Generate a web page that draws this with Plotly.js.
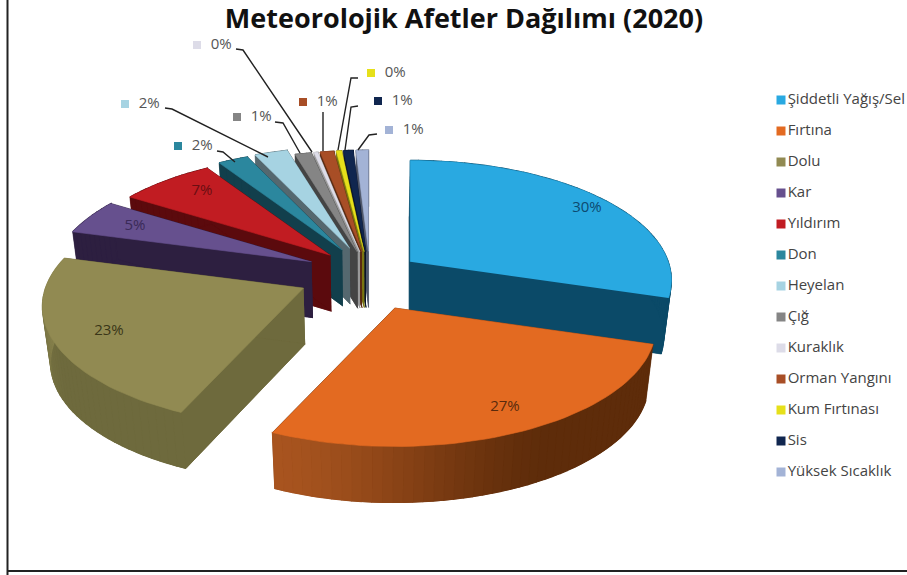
<!DOCTYPE html>
<html><head><meta charset="utf-8">
<script src="https://cdn.plot.ly/plotly-3.0.1.min.js"></script>
<style>html,body{margin:0;padding:0;background:#fff;overflow:hidden}#c{width:907px;height:575px}</style>
</head><body><div id="c"></div>
<script>
const categories = ["Şiddetli Yağış/Sel","Fırtına","Dolu","Kar","Yıldırım","Don","Heyelan","Çığ","Kuraklık","Orman Yangını","Kum Fırtınası","Sis","Yüksek Sıcaklık"];
const values = [29.9,27.0,22.7,4.8,6.9,2.2,2.4,1.2,0.3,1.0,0.4,0.7,0.9];
const topColors = ["#29A9E1","#E36A21","#918A52","#66508E","#C11C22","#2B879E","#A6D3E2","#858585","#DDDCE8","#A84E26","#E6E01A","#10264F","#A3B3D6"];
const wallColors = ["#0B4A68","#5E2C0A","#6E6A3D","#2D1F40","#5B0A0D","#123F4C","#55686F","#444444","#999999","#5A2A12","#7A7510","#081228","#50586B"];
const rimLight = ["#0B4A68","#A8541F","#8D8750","#2D1F40","#5B0A0D","#123F4C","#55686F","#444444","#999999","#5A2A12","#7A7510","#081228","#50586B"];
const labelColors = ["#0D4A70","#5A2A0C","#3A3618","#3A2A58","#6A0E12"];
const pulls = [50,60,68,64,56,58,58,52,52,52,52,52,52];
const nudgeX = [0,0,-5,0,0,0,0,0,0,0,0,0,0];
const nudgeY = [0,0,-6,-2,-1,0,0,2,2,2,2,2,2];
// camera
const C = [370,278], RX = 258, RY = 117, PERSP = 0.155, DEPTH = 56, PULLY = 0.55, LEAN = 0.975;
// outside data labels: key marker and leader line
const outside = {
  8:{key:[197,45],line:[[236,49],[243,50],[312,152]]},
  6:{key:[125,104],line:[[165,108],[172,109],[268,157]]},
  7:{key:[237,117],line:[[275,122],[283,123],[300,153]]},
  5:{key:[178,146],line:[[217,151],[223,152],[235,162]]},
  9:{key:[303,102],line:[[323,112],[323,151]]},
  10:{key:[371,73],line:[[358,78],[351,78],[338,150]]},
  11:{key:[378,101],line:[[358,106],[351,107],[345,150]]},
  12:{key:[389,130],line:[[377,134],[369,135],[358,150]]}
};
const inside = {0:[587,208],1:[505,407],2:[109,331],3:[135,226],4:[202,191]};
const legendX = 781, legendTop = 100, legendStep = 31;
const FONT = '"Open Sans", sans-serif';

const total = values.reduce((a,b)=>a+b,0);
const rad = d=>d*Math.PI/180;
function hex(c){return [1,3,5].map(i=>parseInt(c.substr(i,2),16));}
function mix(a,b,t){const A=hex(a),B=hex(b);return 'rgb('+A.map((v,i)=>Math.round(v+(B[i]-v)*t)).join(',')+')';}
const traces=[];
function poly(pts,color,w){
  traces.push({type:'scatter',mode:'lines',x:pts.map(p=>p[0]),y:pts.map(p=>p[1]),fill:'toself',fillcolor:color,
    line:{color:color,width:w||0.6},hoverinfo:'skip',showlegend:false});
}
let acc=0;
const wedges=values.map((v,i)=>{const a0=acc/total*360;acc+=v;const a1=acc/total*360;return {i,a0,a1};});
function rimPoint(ax,ay,deg){
  const s=Math.sin(rad(deg)),c=Math.cos(rad(deg)),f=1/(1+PERSP*c);
  return [ax+RX*s*f,ay-RY*c*f];
}
function drawWedge(w){
  const mid=rad((w.a0+w.a1)/2),p=pulls[w.i];
  const ax=C[0]+p*Math.sin(mid)+nudgeX[w.i],ay=C[1]-p*Math.cos(mid)*PULLY+nudgeY[w.i];
  const n=Math.max(2,Math.ceil((w.a1-w.a0)/2));
  const rim=[];
  for(let k=0;k<=n;k++)rim.push(rimPoint(ax,ay,w.a0+(w.a1-w.a0)*k/n));
  const down=q=>[C[0]+(q[0]-C[0])*LEAN,q[1]+DEPTH];
  const apex=[ax,ay],wall=wallColors[w.i];
  poly([apex,rim[0],down(rim[0]),down(apex)],wall);
  poly([apex,rim[n],down(rim[n]),down(apex)],wall);
  poly([down(apex)].concat(rim.map(down)),wall);
  // outer wall, shaded along the rim
  for(let k=0;k<n;k++){
    const u=Math.max(0,Math.min(1,(k/n-0.4)/0.6));
    const col=mix(wall,rimLight[w.i],u*u*(3-2*u));
    poly([rim[k],rim[k+1],down(rim[k+1]),down(rim[k])],col,1.2);
  }
  poly([apex].concat(rim),topColors[w.i]);
}
// painter order: the small back slices first, then toward the viewer
for(let i=12;i>=2;i--)drawWedge(wedges[i]);
drawWedge(wedges[0]);
drawWedge(wedges[1]);

const pct=i=>Math.round(values[i]/total*100)+'%';
Object.keys(outside).forEach(k=>{
  const o=outside[k],i=+k;
  traces.push({type:'scatter',mode:'lines',x:o.line.map(p=>p[0]),y:o.line.map(p=>p[1]),
    line:{color:'#222222',width:1.4},hoverinfo:'skip',showlegend:false});
  traces.push({type:'scatter',mode:'markers+text',x:[o.key[0]],y:[o.key[1]],text:['\u00a0\u00a0'+pct(i)],textposition:'middle right',
    marker:{symbol:'square',size:8,color:topColors[i]},textfont:{family:FONT,size:15,color:'#555555'},hoverinfo:'skip',showlegend:false});
});
Object.keys(inside).forEach(k=>{
  const i=+k,q=inside[k];
  traces.push({type:'scatter',mode:'text',x:[q[0]],y:[q[1]],text:[pct(i)],textposition:'middle center',
    textfont:{family:FONT,size:15,color:labelColors[i]},hoverinfo:'skip',showlegend:false});
});
traces.push({type:'scatter',mode:'markers+text',
  x:categories.map(()=>legendX),y:categories.map((_,i)=>legendTop+i*legendStep),
  text:categories,textposition:'middle right',
  marker:{symbol:'square',size:9,color:topColors},
  textfont:{family:FONT,size:15,color:'#444444'},hoverinfo:'skip',showlegend:false,cliponaxis:false});

const layout={
  width:907,height:575,margin:{l:0,r:0,t:0,b:0},paper_bgcolor:'#fff',plot_bgcolor:'#fff',showlegend:false,
  title:{text:'<b>Meteorolojik Afetler Dağılımı (2020)</b>',x:464/907,xanchor:'center',y:1-19/575,yanchor:'middle',
    font:{family:FONT,size:27,color:'#111111'}},
  xaxis:{range:[0,907],visible:false,fixedrange:true},
  yaxis:{range:[575,0],visible:false,fixedrange:true},
  shapes:[
    {type:'line',xref:'paper',yref:'paper',x0:7.5/907,x1:7.5/907,y0:0,y1:1,line:{color:'#222222',width:2}},
    {type:'line',xref:'paper',yref:'paper',x0:7/907,x1:1,y0:1-571/575,y1:1-571/575,line:{color:'#222222',width:2}}
  ]
};
Plotly.newPlot('c',traces,layout,{displayModeBar:false,staticPlot:true});
</script></body></html>
